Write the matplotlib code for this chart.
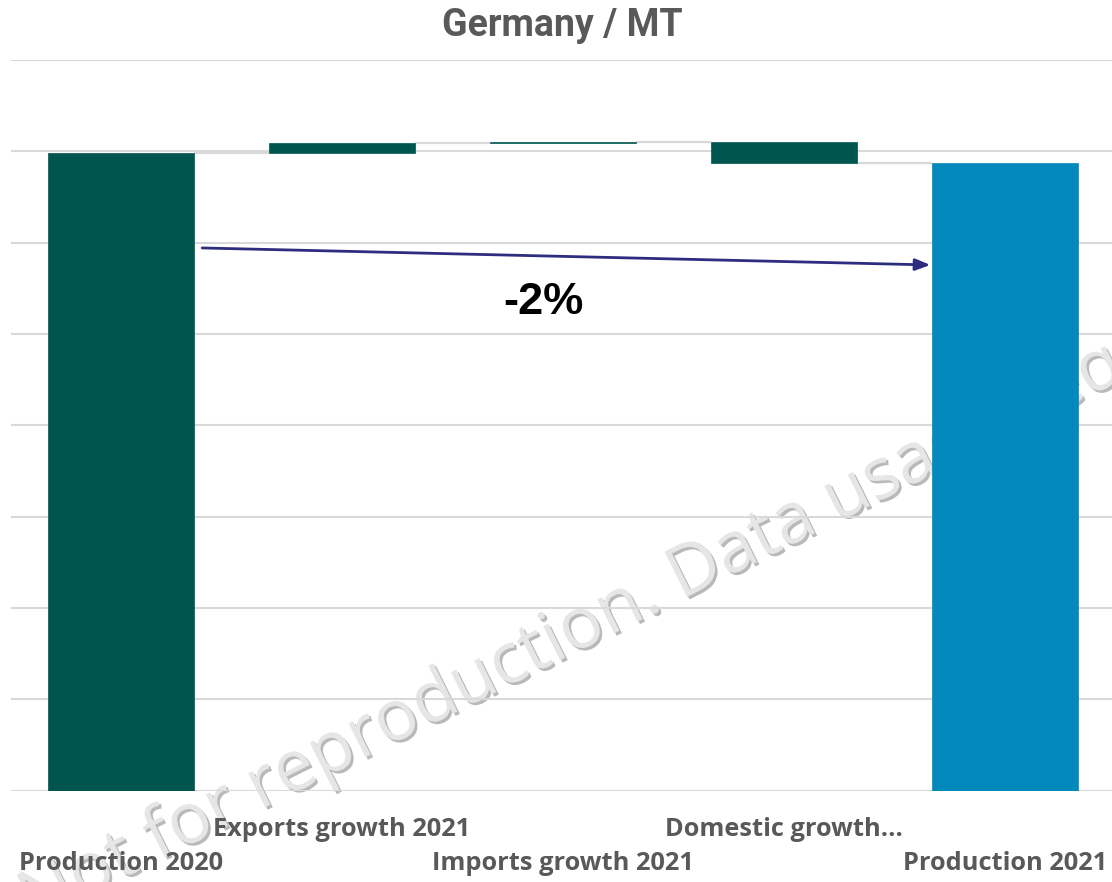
import matplotlib
matplotlib.use("Agg")
import matplotlib.pyplot as plt
import matplotlib.patheffects as pe
import matplotlib.transforms as mtransforms
import numpy as np

# ---- data ----
categories = ["Production 2020", "Exports growth 2021", "Imports growth 2021",
              "Domestic growth...", "Production 2021"]
production_2020 = 34.91
changes = [0.55, 0.03, -1.15]          # exports, imports, domestic
production_2021 = 34.34
title = "Germany / MT"
grid_ticks = [0, 5, 10, 15, 20, 25, 30, 35, 40]

# ---- colors ----
c_teal = "#00564F"
c_blue = "#0089BA"
c_grid = "#D9D9D9"
c_text = "#595959"
c_arrow = "#2E2C7E"

W, H = 1112, 882
fig = plt.figure(figsize=(W / 100, H / 100), dpi=100)
fig.patch.set_facecolor("white")
ax = fig.add_axes([10.5 / W, (H - 790.5) / H, 1105 / W, (790.5 - 60) / H])
ax.patch.set_alpha(0)

x = np.arange(len(categories))
bw = 0.665

# running totals
bottoms, heights, colors = [], [], []
bottoms.append(0); heights.append(production_2020); colors.append(c_teal)
level = production_2020
levels = [level]
for ch in changes:
    bottoms.append(level if ch >= 0 else level + ch)
    heights.append(abs(ch))
    colors.append(c_teal)
    level += ch
    levels.append(level)
bottoms.append(0); heights.append(production_2021); colors.append(c_blue)

ax.bar(x, heights, bottom=bottoms, width=bw, color=colors, zorder=3,
       edgecolor=colors, linewidth=0.5)

# connectors
for i in range(len(categories) - 1):
    ax.plot([x[i] + bw / 2, x[i + 1] - bw / 2], [levels[i], levels[i]],
            color=c_grid, lw=1.6, zorder=2, solid_capstyle="butt")

ax.set_xlim(-0.5, len(categories) - 0.5)
ax.set_ylim(grid_ticks[0], grid_ticks[-1])
ax.set_yticks(grid_ticks)
ax.grid(axis="y", color=c_grid, lw=1.5, zorder=1)
ax.set_axisbelow(True)
ax.tick_params(left=False, bottom=False, labelleft=False, labelbottom=False)
for s in ax.spines.values():
    s.set_visible(False)

# staggered category labels
lab_tr = mtransforms.blended_transform_factory(ax.transData, fig.transFigure)
for i, lab in enumerate(categories):
    ypix = 829 if i % 2 == 1 else 864
    ax.text(x[i], 1 - ypix / H, lab, transform=lab_tr,
            ha="center", va="center", fontsize=18.3, fontweight="bold",
            color=c_text, family="Open Sans", zorder=5)

# title
fig.text(562 / W, 1 - 26 / H, title, ha="center", va="center", fontsize=27,
         fontweight="bold", color=c_text, family="Roboto")

# change arrow
pct = (production_2021 / production_2020 - 1) * 100
ax.annotate("", xy=(x[-1] - bw / 2 - 0.005, production_2021 * 0.838),
            xytext=(x[0] + bw / 2 + 0.035, production_2020 * 0.851),
            arrowprops=dict(arrowstyle="-|>,head_length=0.9,head_width=0.35",
                            color=c_arrow, lw=2.0, shrinkA=0, shrinkB=0),
            zorder=6)
ax.text(1.91, production_2020 * 0.766, f"{pct:.0f}%", ha="center", va="center",
        fontsize=32.5, fontweight="bold", color="black", family="Liberation Sans",
        zorder=6)

# watermark
wm = fig.text(33 / W, 1 - 923 / H, "Not for reproduction. Data usage requires permission",
              rotation=26.5, rotation_mode="anchor", ha="left", va="baseline",
              fontsize=51, color="#E6E6E6", family="Open Sans", zorder=-1)
wm.set_path_effects([pe.withSimplePatchShadow(offset=(1.8, -1.8),
                                             shadow_rgbFace="#808080", alpha=0.55)])

fig.savefig("out.png", dpi=100, facecolor="white")
